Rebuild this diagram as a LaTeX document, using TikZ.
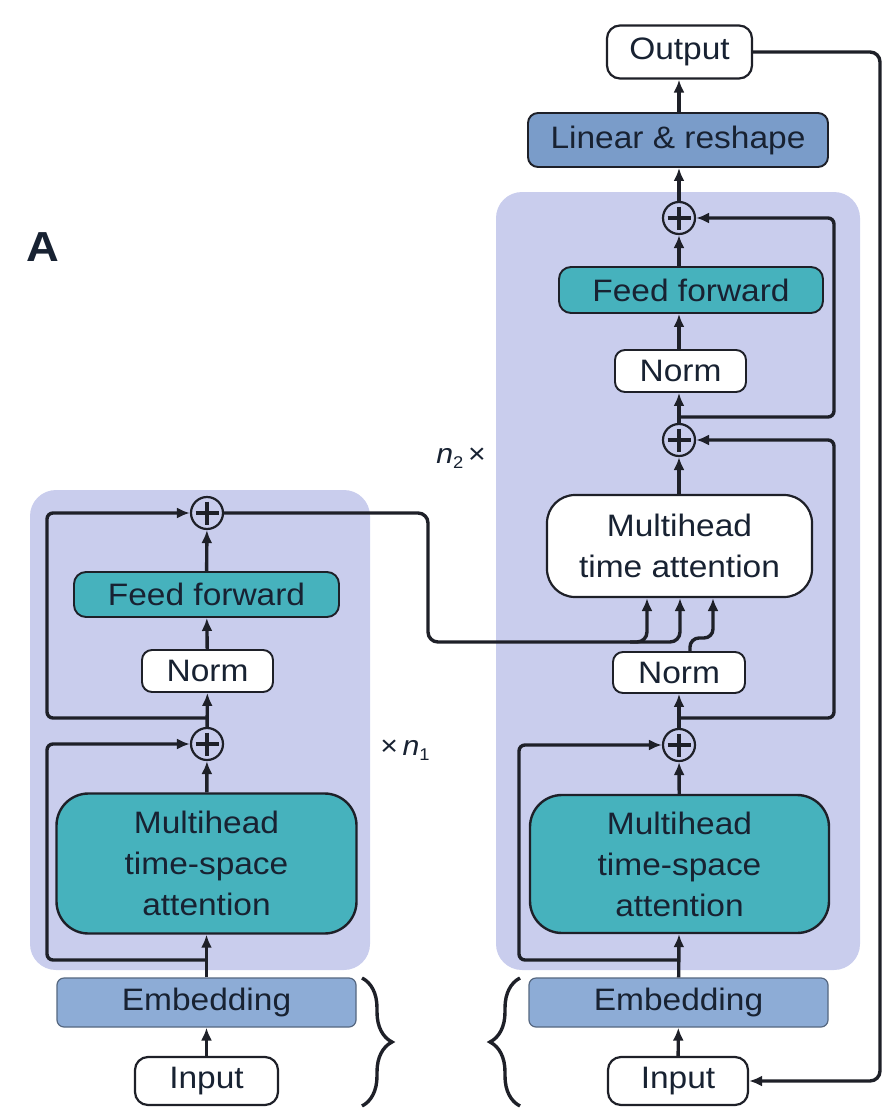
\documentclass[tikz,border=0pt]{standalone}
\usepackage{fontspec}
\setmainfont{Liberation Sans}[FakeStretch=1.08]
\usetikzlibrary{arrows.meta,decorations.pathreplacing,calc}
\definecolor{panelc}{RGB}{201,205,237}
\definecolor{tealc}{RGB}{70,178,189}
\definecolor{embc}{RGB}{141,172,214}
\definecolor{linc}{RGB}{122,156,201}
\definecolor{textc}{RGB}{24,34,50}
\definecolor{linec}{RGB}{30,32,40}
\begin{document}
\begin{tikzpicture}[x=1pt,y=-1pt,
  bx/.style={draw=linec, line width=1.9pt, rounded corners=10pt, inner sep=0pt, align=center,
     text=textc, font=\fontsize{31}{41}\selectfont},
  whitebox/.style={bx, fill=white, line width=2.2pt, rounded corners=13pt},
  normbox/.style={bx, fill=white, minimum width=131pt, minimum height=42pt},
  ffbox/.style={bx, fill=tealc, minimum width=265pt, minimum height=45pt, rounded corners=12pt},
  mhabox/.style={bx, fill=tealc, line width=2.4pt, minimum width=300pt, minimum height=140pt, rounded corners=32pt},
  embbox/.style={bx, fill=embc, draw=embc!60!black, line width=1.2pt, minimum width=299pt, minimum height=49pt, rounded corners=7pt},
  plusn/.style={circle, draw=linec, line width=2.2pt, minimum size=32pt, inner sep=0pt,
     path picture={\draw[line width=3.2pt, linec]
        ($(path picture bounding box.center)+(0,-11.5)$) -- ($(path picture bounding box.center)+(0,11.5)$)
        ($(path picture bounding box.center)+(-11.5,0)$) -- ($(path picture bounding box.center)+(11.5,0)$);}},
  arr/.style={draw=linec, line width=3.4pt, -{Latex[length=13pt,width=11pt]}},
  brc/.style={draw=linec, line width=3.4pt, decorate, decoration={brace, amplitude=30pt}},
  lbl/.style={text=textc, inner sep=0pt, font=\fontsize{28}{30}\selectfont}
]
\useasboundingbox (0,0) rectangle (887,1108);

% panels
\fill[panelc, rounded corners=26pt] (30,490) rectangle (370,970);
\fill[panelc, rounded corners=26pt] (496,192) rectangle (860,970);

% label A
\node[text=textc, inner sep=0pt, font=\fontsize{42}{42}\selectfont\bfseries] (lblA) at (43,247) {A};

% ---------- left column ----------
\node[whitebox, minimum width=143pt, minimum height=48pt] (lin) at (206.5,1081) {Input};
\node[embbox] (lemb) at (206.5,1002.5) {Embedding};
\node[mhabox] (lmha) at (206.5,863.5) {Multihead\\time-space\\attention};
\node[plusn] (lp2) at (207,744) {};
\node[normbox] (lnorm) at (207.5,671) {Norm};
\node[ffbox] (lff) at (206.5,594.5) {Feed forward};
\node[plusn] (lp1) at (207,513) {};

% ---------- right column ----------
\node[whitebox, minimum width=140pt, minimum height=48pt] (rin) at (678,1081) {Input};
\node[embbox] (remb) at (678.5,1002.5) {Embedding};
\node[mhabox, minimum width=299pt, minimum height=138pt] (rmha) at (679.5,864) {Multihead\\time-space\\attention};
\node[plusn] (rp2) at (679,745) {};
\node[normbox, minimum width=132pt, minimum height=41pt] (rnorm1) at (679,672.5) {Norm};
\node[bx, fill=white, line width=2.2pt, minimum width=265pt, minimum height=102pt, rounded corners=28pt] (rtatt) at (679.5,546) {Multihead\\time attention};
\node[plusn] (rp3) at (679,440) {};
\node[normbox] (rnorm2) at (680.5,371) {Norm};
\node[ffbox, minimum width=264pt, minimum height=46pt] (rff) at (691,290) {Feed forward};
\node[plusn] (rp4) at (679,218) {};
\node[bx, fill=linc, minimum width=300pt, minimum height=54pt] (rlin) at (678,140) {Linear \& reshape};
\node[whitebox, minimum width=145pt, minimum height=53pt] (rout) at (679.5,52) {Output};

% labels
\node[lbl] (n1) at (405,750) {×\,{\itshape n}\raisebox{-5pt}{\fontsize{17}{17}\selectfont 1}};
\node[lbl] (n2) at (461,458) {{\itshape n}\raisebox{-5pt}{\fontsize{17}{17}\selectfont 2}\,×};

% ---------- left connectors ----------
\draw[arr] (lin) -- (lemb);
\draw[arr] (lemb) -- (lmha);
\draw[arr, rounded corners=6pt] (207,960) -- (47,960) -- (47,744) -- (lp2.west);
\draw[arr] (lmha) -- (lp2);
\draw[arr] (lp2) -- (lnorm);
\draw[arr, rounded corners=6pt] (207,718) -- (47,718) -- (47,513) -- (lp1.west);
\draw[arr] (lnorm) -- (lff);
\draw[arr] (lff) -- (lp1);
\draw[arr, rounded corners=10pt] (lp1.east) -- (428,513) -- (428,642) -- (647,642) -- (647,0 |- rtatt.south);
\draw[arr, rounded corners=10pt] (630,642) -- (680,642) -- (680,0 |- rtatt.south);

% ---------- right connectors ----------
\draw[arr] (rin) -- (remb);
\draw[arr] (remb) -- (rmha);
\draw[arr, rounded corners=6pt] (679,960) -- (519,960) -- (519,745) -- (rp2.west);
\draw[arr] (rmha) -- (rp2);
\draw[arr] (rp2) -- (rnorm1);
\draw[arr, rounded corners=6pt] (679,718) -- (834,718) -- (834,440) -- (rp3.east);
\draw[arr, rounded corners=9pt] (690,0 |- rnorm1.north) -- (690,638) -- (713,638) -- (713,0 |- rtatt.south);
\draw[arr] (rtatt.north -| rp3) -- (rp3);
\draw[arr] (rp3) -- (rnorm2.south -| rp3);
\draw[arr, rounded corners=6pt] (679,417) -- (834,417) -- (834,218) -- (rp4.east);
\draw[arr] (rnorm2.north -| rp4) -- (rff.south -| rp4);
\draw[arr] (rff.north -| rp4) -- (rp4);
\draw[arr] (rp4) -- (rlin.south -| rp4);
\draw[arr] (rlin.north -| rp4) -- (rout.south -| rp4);
\draw[arr, rounded corners=10pt] (rout.east) -- (880,0 |- rout.east) -- (880,0 |- rin.east) -- (rin.east);

% braces
\draw[brc] (362,978) -- (362,1106);
\draw[brc] (520,1106) -- (520,978);
\end{tikzpicture}
\end{document}
